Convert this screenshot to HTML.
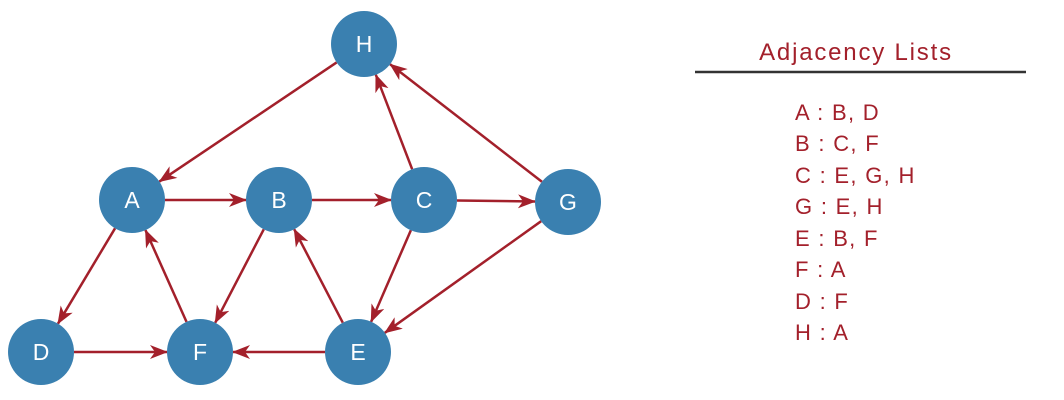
<!DOCTYPE html>
<html><head><meta charset="utf-8"><style>
body{margin:0;background:#fff;width:1064px;height:400px;overflow:hidden}
svg{position:absolute;left:0;top:0}
</style></head><body>
<svg id="s" width="1064" height="400" xmlns="http://www.w3.org/2000/svg">
<defs><marker id="ar" markerWidth="18" markerHeight="14" refX="17" refY="7" orient="auto" markerUnits="userSpaceOnUse"><path d="M0,0 L18,7 L0,14 L5,7 Z" fill="#a3202b"/></marker></defs>
<g id="edges" stroke="#a3202b" stroke-width="2.5" fill="none"></g>
<g id="nodes"></g>
<g font-family="Liberation Sans, sans-serif" fill="#a3202b">
<text x="856" y="60" font-size="24" letter-spacing="1.8" text-anchor="middle">Adjacency Lists</text>
<line x1="695" y1="72" x2="1026" y2="72" stroke="#333" stroke-width="2.5"/>
<g font-size="22" letter-spacing="1.3">
<text x="795" y="120">A : B, D</text>
<text x="795" y="151">B : C, F</text>
<text x="795" y="183">C : E, G, H</text>
<text x="795" y="214">G : E, H</text>
<text x="795" y="246">E : B, F</text>
<text x="795" y="277">F : A</text>
<text x="795" y="309">D : F</text>
<text x="795" y="340">H : A</text>
</g></g>
</svg>
<script>
var N={H:[364,44],A:[132,200],B:[279,200],C:[424,200],G:[568,202],D:[41,352],F:[200,352],E:[358,352]};
var R=33,ns="http://www.w3.org/2000/svg";
var E=[["A","B"],["B","C"],["C","G"],["C","H"],["G","H"],["H","A"],["A","D"],["D","F"],["F","A"],["B","F"],["E","B"],["E","F"],["C","E"],["G","E"]];
var eg=document.getElementById("edges"),ng=document.getElementById("nodes");
E.forEach(function(e){var a=N[e[0]],b=N[e[1]],dx=b[0]-a[0],dy=b[1]-a[1],l=Math.hypot(dx,dy),ux=dx/l,uy=dy/l;
var L=document.createElementNS(ns,"line");L.setAttribute("x1",a[0]+ux*R);L.setAttribute("y1",a[1]+uy*R);L.setAttribute("x2",b[0]-ux*R);L.setAttribute("y2",b[1]-uy*R);L.setAttribute("marker-end","url(#ar)");eg.appendChild(L);});
for(var k in N){var c=document.createElementNS(ns,"circle");c.setAttribute("cx",N[k][0]);c.setAttribute("cy",N[k][1]);c.setAttribute("r",R);c.setAttribute("fill","#3a80b0");ng.appendChild(c);
var t=document.createElementNS(ns,"text");t.setAttribute("x",N[k][0]);t.setAttribute("y",N[k][1]+8);t.setAttribute("text-anchor","middle");t.setAttribute("font-size","23");t.setAttribute("fill","#fff");t.setAttribute("font-family","Liberation Sans, sans-serif");t.textContent=k;ng.appendChild(t);}
</script>
</body></html>
